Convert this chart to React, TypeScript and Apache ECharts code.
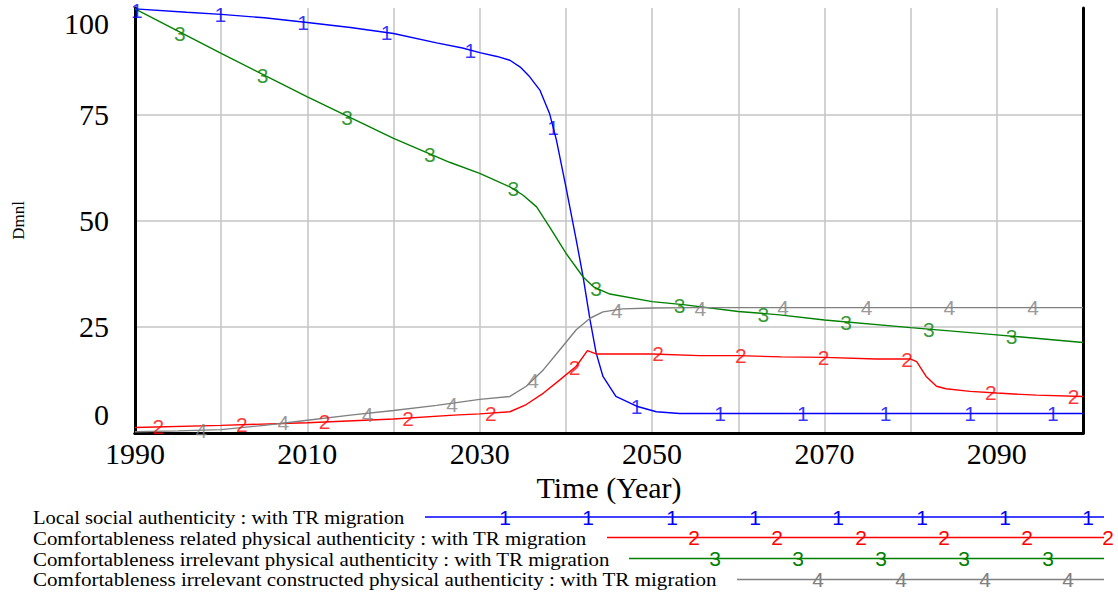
import React, { useEffect, useRef } from 'react';
import * as echarts from 'echarts';

// ---------- data ----------
const seriesNames = [
  'Local social authenticity : with TR migration',
  'Comfortableness related physical authenticity : with TR migration',
  'Comfortableness irrelevant physical authenticity : with TR migration',
  'Comfortableness irrelevant constructed physical authenticity : with TR migration',
];
const seriesTags = ['1', '2', '3', '4'];
const seriesColors = ['#0000ff', '#ff0000', '#008000', '#808080'];

const localSocial: [number, number][] = [
  [1990, 99.8], [1996, 99.0], [2000, 98.5], [2005, 97.7], [2010, 96.6], [2015, 95.4],
  [2020, 94.0], [2025, 91.8], [2028, 90.6], [2030, 89.5], [2032, 88.6], [2033.5, 87.7],
  [2034.7, 86.1], [2035.8, 83.8], [2037, 80.6], [2038.1, 75.2], [2038.9, 68.9], [2040, 57.9],
  [2041.2, 45.4], [2042, 36.7], [2042.8, 26.6], [2043.5, 18.9], [2044.3, 13.3], [2045.8, 8.6],
  [2048.2, 6.3], [2050.5, 5.0], [2053.2, 4.6], [2100, 4.6],
];
const comfortRelated: [number, number][] = [
  [1990, 1.3], [2000, 1.8], [2010, 2.4], [2020, 3.3], [2027, 4.2], [2030, 4.5], [2033.5, 5.0],
  [2035.4, 6.7], [2037.4, 9.4], [2039.3, 12.5], [2041.2, 15.7], [2042.5, 19.4], [2043.5, 18.6],
  [2050, 18.6], [2055.5, 18.2], [2060, 18.2], [2065, 17.9], [2070, 17.8], [2076, 17.4],
  [2080, 17.4], [2080.7, 16.8], [2081.8, 13.3], [2083, 11.0], [2084.1, 10.4], [2086.9, 9.8],
  [2090, 9.4], [2094.6, 8.9], [2100, 8.6],
];
const comfortIrrelevant: [number, number][] = [
  [1990, 99.8], [2000, 89.3], [2010, 79.1], [2020, 69.3], [2026.5, 63.7], [2030, 61.1],
  [2033.5, 57.9], [2035, 56.0], [2036.6, 53.2], [2038.1, 48.5], [2040, 42.3], [2042, 36.7],
  [2043.2, 34.4], [2045.1, 32.7], [2050, 30.9], [2053.6, 30.2], [2060, 28.6], [2064.8, 27.8],
  [2070, 26.6], [2080, 24.8], [2090, 23.1], [2100, 21.3],
];
const constructedPhysical: [number, number][] = [
  [1990, 0.3], [1995, 0.5], [2000, 0.8], [2005, 1.8], [2010, 3.0], [2015, 4.2], [2020, 5.3],
  [2025, 6.5], [2030, 7.9], [2033.5, 8.6], [2035.4, 11.0], [2037.4, 14.9], [2039.3, 19.6],
  [2041.2, 24.3], [2042.8, 27.0], [2044.3, 28.5], [2046.6, 29.2], [2050, 29.4], [2055, 29.5],
  [2100, 29.5],
];

// numbered markers drawn on each curve
const markers1: [number, number][] = [
  [1990.2, 99.3], [1999.9, 98.5], [2009.5, 96.7], [2019.2, 94.2], [2028.9, 90.1], [2038.5, 72.0],
  [2048.2, 6.3], [2057.9, 4.6], [2067.5, 4.6], [2077.1, 4.6], [2086.9, 4.6], [2096.5, 4.6],
];
const markers2: [number, number][] = [
  [1992.7, 1.5], [2002.4, 2.0], [2012.0, 2.6], [2021.7, 3.5], [2031.3, 4.6], [2041.0, 15.3],
  [2050.7, 18.6], [2060.3, 18.2], [2069.9, 17.8], [2079.6, 17.4], [2089.3, 9.5], [2098.9, 8.7],
];
const markers3: [number, number][] = [
  [1995.2, 94.0], [2004.8, 84.2], [2014.6, 74.3], [2024.2, 65.6], [2033.9, 57.5], [2043.5, 34.0],
  [2053.2, 30.0], [2062.9, 28.0], [2072.5, 26.1], [2082.1, 24.4], [2091.7, 22.6],
];
const markers4: [number, number][] = [
  [1997.7, 0.7], [2007.2, 2.4], [2017.0, 4.3], [2026.8, 6.8], [2036.2, 12.3], [2045.9, 28.8],
  [2055.6, 29.4], [2065.2, 29.5], [2074.9, 29.5], [2084.5, 29.5], [2094.2, 29.5],
];

const xMin = 1990;
const xMax = 2100;
const xInterval = 10;
const yMin = 0;
const yMax = 100;
const yInterval = 25;
const xTitle = 'Time (Year)';
const yTitle = 'Dmnl';

const lineData = [localSocial, comfortRelated, comfortIrrelevant, constructedPhysical];
const markerData = [markers1, markers2, markers3, markers4];

// ---------- legend layout (Vensim-style, drawn with graphic) ----------
const legendRowsY = [517, 537.5, 558.5, 579.5];
const legendLineStart = [425, 607, 629, 737];
const legendLineEnd = 1104;
const legendMarkerX = [
  [505, 588, 672, 755, 838, 922, 1005, 1088],
  [694, 777, 861, 944, 1027, 1108],
  [715, 798, 881, 964, 1048],
  [818, 901, 985, 1068],
];
const legendScaleX = [1.145, 1.16, 1.16, 1.17];

const SERIF = 'Liberation Serif';
const SANS = 'Liberation Sans';
const TAG_SIZE = 21;

export default function App() {
  const ref = useRef<HTMLDivElement>(null);

  useEffect(() => {
    if (!ref.current) return;
    const chart = echarts.init(ref.current, undefined, { renderer: 'svg' });

    const graphic: any[] = [];
    seriesNames.forEach((name, i) => {
      const y = legendRowsY[i];
      graphic.push({
        type: 'text',
        x: 33,
        y: y + 1,
        scaleX: legendScaleX[i],
        style: {
          text: name,
          fontFamily: SERIF,
          fontSize: 18,
          fill: '#000',
          align: 'left',
          verticalAlign: 'middle',
        },
      });
      graphic.push({
        type: 'line',
        shape: { x1: legendLineStart[i], y1: y, x2: legendLineEnd, y2: y },
        style: { stroke: seriesColors[i], lineWidth: 1.3 },
      });
      legendMarkerX[i].forEach((mx) => {
        graphic.push({
          type: 'text',
          x: mx,
          y: y,
          style: {
            text: seriesTags[i],
            fontFamily: SANS,
            fontSize: TAG_SIZE,
            fill: seriesColors[i],
            align: 'center',
            verticalAlign: 'middle',
          },
        });
      });
    });

    const series: any[] = [];
    lineData.forEach((d, i) => {
      series.push({
        name: seriesNames[i],
        type: 'line',
        data: d,
        symbol: 'none',
        showSymbol: false,
        silent: true,
        z: 2,
        lineStyle: { color: seriesColors[i], width: 1.4 },
        itemStyle: { color: seriesColors[i] },
      });
    });
    markerData.forEach((d, i) => {
      series.push({
        name: seriesNames[i] + ' markers',
        type: 'scatter',
        data: d,
        symbol: 'circle',
        symbolSize: 1,
        silent: true,
        clip: false,
        z: 3,
        itemStyle: { color: 'rgba(0,0,0,0)' },
        label: {
          show: true,
          position: 'inside',
          formatter: seriesTags[i],
          color: seriesColors[i],
          fontFamily: SANS,
          fontSize: TAG_SIZE,
        },
      });
    });

    const frameLine = { show: true, lineStyle: { color: '#000', width: 3 } };
    const grid = { color: '#c4c4c4', width: 1.5 };

    chart.setOption({
      animation: false,
      backgroundColor: '#ffffff',
      textStyle: { fontFamily: SERIF },
      grid: { left: 135, right: 35, top: 8, bottom: 160 },
      xAxis: [
        {
          type: 'value',
          position: 'bottom',
          min: xMin,
          max: xMax,
          interval: xInterval,
          name: xTitle,
          nameLocation: 'middle',
          nameGap: 38,
          nameTextStyle: { fontFamily: SERIF, fontSize: 30, color: '#000' },
          axisLine: frameLine,
          axisTick: { show: false },
          axisLabel: {
            margin: 5,
            fontFamily: SERIF,
            fontSize: 30,
            color: '#000',
            formatter: (v: number) =>
              (v - xMin) % (2 * xInterval) === 0 && v < xMax ? String(v) : '',
          },
          splitLine: { show: true, showMinLine: false, showMaxLine: false, lineStyle: grid },
          z: 1,
        },
        {
          type: 'value',
          position: 'top',
          min: xMin,
          max: xMax,
          interval: xInterval,
          axisLine: frameLine,
          axisTick: { show: false },
          axisLabel: { show: false },
          splitLine: { show: false },
          z: 1,
        },
      ],
      yAxis: [
        {
          type: 'value',
          position: 'left',
          min: yMin,
          max: yMax,
          interval: yInterval,
          name: yTitle,
          nameLocation: 'middle',
          nameRotate: 90,
          nameGap: 108,
          nameTextStyle: { fontFamily: SERIF, fontSize: 17, color: '#000' },
          axisLine: frameLine,
          axisTick: { show: false },
          axisLabel: {
            margin: 26,
            fontFamily: SERIF,
            fontSize: 30,
            color: '#000',
            verticalAlignMinLabel: 'bottom',
            verticalAlignMaxLabel: 'top',
            formatter: (v: number) => (v === yMin ? '{lo|' + v + '}' : String(v)),
            rich: {
              lo: { fontFamily: SERIF, fontSize: 30, color: '#000', padding: [0, 0, 4, 0] },
            },
          },
          splitLine: { show: true, showMinLine: false, showMaxLine: false, lineStyle: grid },
          z: 1,
        },
        {
          type: 'value',
          position: 'right',
          min: yMin,
          max: yMax,
          interval: yInterval,
          axisLine: frameLine,
          axisTick: { show: false },
          axisLabel: { show: false },
          splitLine: { show: false },
          z: 1,
        },
      ],
      graphic,
      series,
    });

    return () => chart.dispose();
  }, []);

  return (
    <div
      ref={ref}
      style={{ position: 'absolute', left: 0, top: 0, width: 1118, height: 593 }}
    />
  );
}
